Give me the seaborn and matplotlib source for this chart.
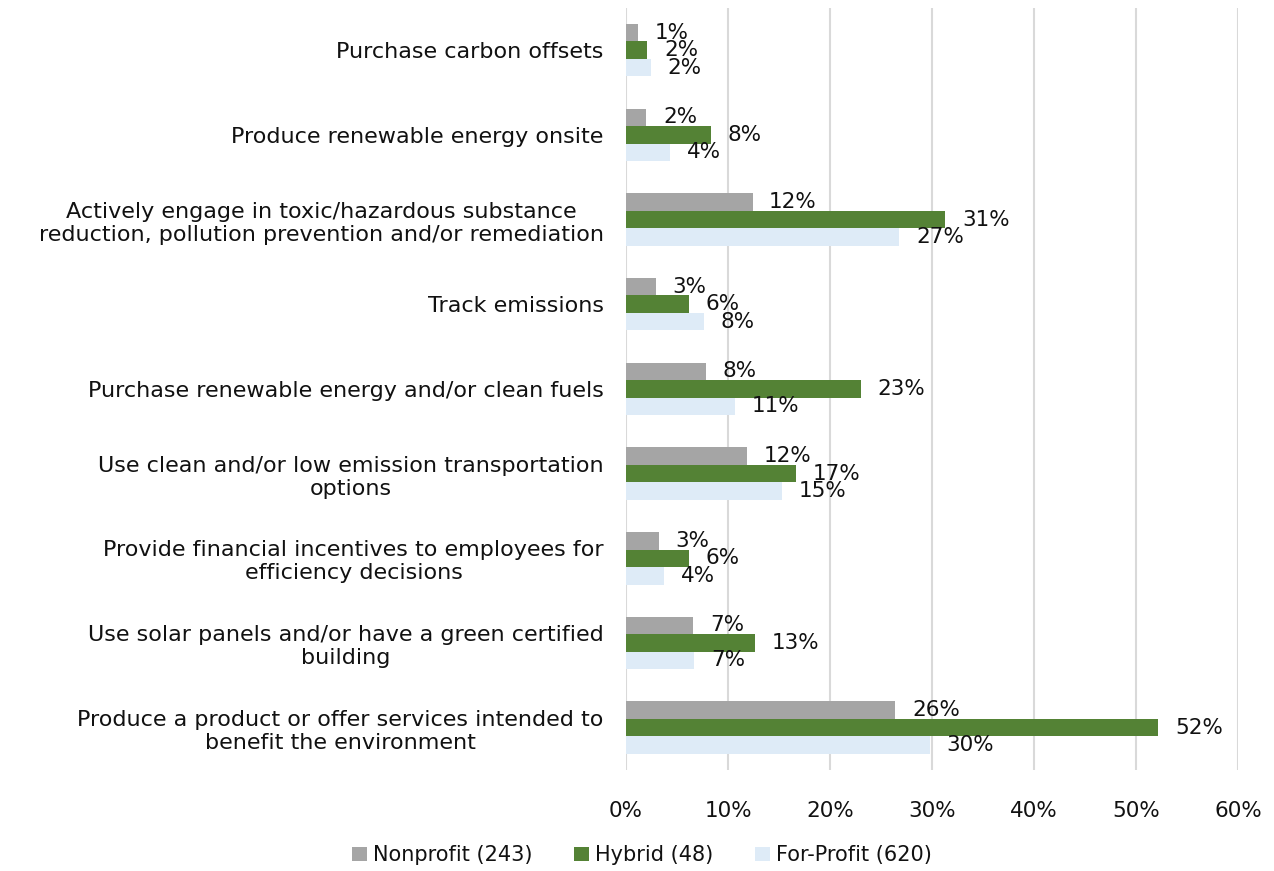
import matplotlib
matplotlib.use("Agg")
import matplotlib.pyplot as plt
import seaborn as sns
import pandas as pd
from matplotlib.ticker import FuncFormatter

categories = [
    "Purchase carbon offsets",
    "Produce renewable energy onsite",
    "Actively engage in toxic/hazardous substance\nreduction, pollution prevention and/or remediation",
    "Track emissions",
    "Purchase renewable energy and/or clean fuels",
    "Use clean and/or low emission transportation\noptions",
    "Provide financial incentives to employees for\nefficiency decisions",
    "Use solar panels and/or have a green certified\nbuilding",
    "Produce a product or offer services intended to\nbenefit the environment",
]
series_names = ["Nonprofit (243)", "Hybrid (48)", "For-Profit (620)"]
nonprofit = [1.2, 2.0, 12.4, 2.9, 7.8, 11.9, 3.2, 6.6, 26.4]
hybrid = [2.1, 8.3, 31.3, 6.2, 23.0, 16.7, 6.2, 12.6, 52.2]
forprofit = [2.4, 4.3, 26.8, 7.6, 10.7, 15.3, 3.7, 6.7, 29.8]
x_ticks = [0, 10, 20, 30, 40, 50, 60]
colors = ["#A5A5A5", "#548235", "#DEEBF7"]

df = pd.DataFrame({
    "category": categories * 3,
    "series": [series_names[0]] * 9 + [series_names[1]] * 9 + [series_names[2]] * 9,
    "value": nonprofit + hybrid + forprofit,
})

sns.set_theme(style="white")
plt.rcParams["font.family"] = ["DejaVu Sans"]

fig = plt.figure(figsize=(12.74, 8.71), dpi=100)
ax = fig.add_axes([0.4914, 0.116, 0.4803, 0.875])

sns.barplot(data=df, y="category", x="value", hue="series", order=categories,
            hue_order=series_names, palette=colors, saturation=1, width=0.62,
            linewidth=0, orient="h", ax=ax, legend=True)

for cont in ax.containers:
    ax.bar_label(cont, labels=[f"{v:.0f}%" for v in cont.datavalues],
                 padding=12, fontsize=15.5, color="#111111")

ax.set_xlim(0, 60)
ax.set_xticks(x_ticks)
ax.xaxis.set_major_formatter(FuncFormatter(lambda v, p: f"{v:.0f}%"))
ax.grid(axis="x", color="#D9D9D9", linewidth=1.5)
ax.grid(axis="y", visible=False)
ax.set_axisbelow(True)
for s in ax.spines.values():
    s.set_visible(False)
ax.set_xlabel("")
ax.set_ylabel("")
ax.tick_params(axis="x", length=0, pad=22, labelsize=15.5, labelcolor="#111111")
ax.tick_params(axis="y", length=0, pad=16, labelsize=16, labelcolor="#111111")
for t in ax.get_yticklabels():
    t.set_multialignment("center")

handles, labels = ax.get_legend_handles_labels()
ax.legend_.remove()
fig.legend(handles, labels, loc="center", bbox_to_anchor=(0.504, 0.018),
           ncol=3, frameon=False, fontsize=15, handlelength=0.7, handleheight=0.7,
           handletextpad=0.3, columnspacing=2.0, labelcolor="#111111")

fig.savefig("out.png", dpi=100)
